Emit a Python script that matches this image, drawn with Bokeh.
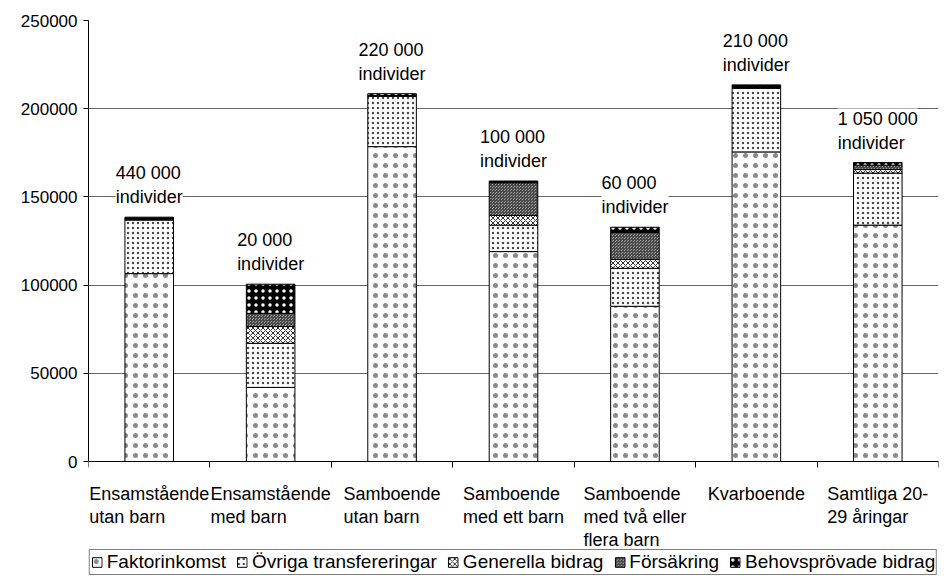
from bokeh.plotting import figure
from bokeh.models import (Range1d, FixedTicker, NumeralTickFormatter, LinearAxis,
                          ColumnDataSource, LabelSet, Legend, LegendItem)
from bokeh.core.properties import value
from bokeh.embed import file_html
from bokeh.resources import INLINE

categories = ["Ensamstående\nutan barn", "Ensamstående\nmed barn", "Samboende\nutan barn",
              "Samboende\nmed ett barn", "Samboende\nmed två eller\nflera barn", "Kvarboende",
              "Samtliga 20-\n29 åringar"]
annotations = ["440 000\nindivider", "20 000\nindivider", "220 000\nindivider", "100 000\nindivider",
               "60 000\nindivider", "210 000\nindivider", "1 050 000\nindivider"]
series_names = ["Faktorinkomst", "Övriga transfereringar", "Generella bidrag", "Försäkring",
                "Behovsprövade bidrag"]
faktorinkomst = [106500, 42000, 178500, 119000, 88000, 175500, 134000]
ovriga = [30500, 25000, 28500, 15000, 21500, 36000, 29500]
generella = [0, 9500, 0, 5500, 5000, 500, 2000]
forsakring = [500, 7500, 500, 18500, 15300, 500, 2500]
behov = [1000, 16500, 1000, 1000, 3000, 1000, 1500]
y_ticks = [0, 50000, 100000, 150000, 200000, 250000]

n = len(categories)
pos = list(range(n))
keys = ["faktor", "ovriga", "generella", "forsakring", "behov"]
data = dict(x=pos, faktor=faktorinkomst, ovriga=ovriga, generella=generella,
            forsakring=forsakring, behov=behov, ann=annotations, cat=categories)
data["total"] = [sum(v) for v in zip(faktorinkomst, ovriga, generella, forsakring, behov)]
source = ColumnDataSource(data)

FONT = "Liberation Sans"

# layout: frame from y=20 to y=575 px; value axis 0..250000 occupies 441 px at the top
Y_MAX = 250000
FRAME_PX = 555
AXIS_PX = 441
y_lo = Y_MAX * (1 - FRAME_PX / AXIS_PX)

p = figure(x_range=Range1d(-0.5, n - 0.5), y_range=Range1d(y_lo, Y_MAX),
           width=946, height=583, output_backend="svg", toolbar_location=None,
           x_axis_location=None, min_border_left=88, min_border_right=8, min_border_top=20,
           min_border_bottom=8)
p.outline_line_color = None
p.background_fill_color = "white"
p.xgrid.grid_line_color = None
p.ygrid.grid_line_color = "#666666"
p.ygrid.ticker = FixedTicker(ticks=y_ticks)

p.yaxis.ticker = FixedTicker(ticks=y_ticks)
p.yaxis.bounds = (0, Y_MAX)
p.yaxis.formatter = NumeralTickFormatter(format="0")
p.yaxis.major_label_text_font = FONT
p.yaxis.major_label_text_font_size = "17px"
p.yaxis.major_label_text_color = "black"
p.yaxis.axis_line_color = "black"
p.yaxis.major_tick_line_color = "black"
p.yaxis.major_tick_out = 5
p.yaxis.major_tick_in = 0
p.yaxis.minor_tick_line_color = None
p.yaxis.major_label_standoff = 6

# category axis line at y=0 with ticks at the category boundaries
bounds = [i - 0.5 for i in range(n + 1)]
tick_axis = LinearAxis(ticker=FixedTicker(ticks=bounds), fixed_location=0)
tick_axis.major_label_overrides = {b: "" for b in bounds}
tick_axis.major_label_text_font_size = "1px"
tick_axis.major_label_text_color = None
tick_axis.major_label_standoff = 0
tick_axis.axis_line_color = "black"
tick_axis.major_tick_line_color = "black"
tick_axis.major_tick_out = 6
tick_axis.major_tick_in = 0
tick_axis.minor_tick_line_color = None
p.add_layout(tick_axis, "below")

fills = ["white", "white", "white", "#9a9a9a", "black"]
hatches = ["dot", "dot", "diagonal_cross", "criss_cross", "dot"]
hatch_colors = ["#8a8a8a", "#4a4a4a", "#333333", "#4a4a4a", "white"]
hatch_scales = [10, 5, 5, 3, 7]
hatch_weights = [0.5, 0.5, 1, 1, 0.5]

renderers = p.vbar_stack(keys, x="x", width=0.4, source=source,
                         fill_color=fills, line_color="black", line_width=1,
                         hatch_pattern=hatches, hatch_color=hatch_colors,
                         hatch_scale=hatch_scales, hatch_weight=hatch_weights)

labels = LabelSet(x="x", y="total", text="ann", source=source, text_align="center",
                  text_baseline="bottom", y_offset=10, text_font=value(FONT),
                  text_font_size=value("18px"), text_color="black",
                  background_fill_color="white", text_line_height=1.2)
p.add_layout(labels)

# category labels under the axis line
cat_labels = LabelSet(x="x", y=0, text="cat", source=source, text_align="center",
                      text_baseline="top", y_offset=-22, text_font=value(FONT),
                      text_font_size=value("18px"), text_color="black", text_line_height=1.15)
p.add_layout(cat_labels)

legend = Legend(items=[LegendItem(label=s, renderers=[r]) for s, r in zip(series_names, renderers)],
                orientation="horizontal", location="bottom_center")
legend.label_text_font = FONT
legend.label_text_font_size = "19px"
legend.label_text_color = "black"
legend.glyph_width = 12
legend.glyph_height = 12
legend.label_standoff = 4
legend.spacing = 10
legend.padding = 1
legend.margin = 0
legend.border_line_color = "black"
legend.border_line_width = 1
legend.background_fill_color = "white"
p.add_layout(legend, "center")

open("out.html", "w").write(file_html(p, INLINE))
